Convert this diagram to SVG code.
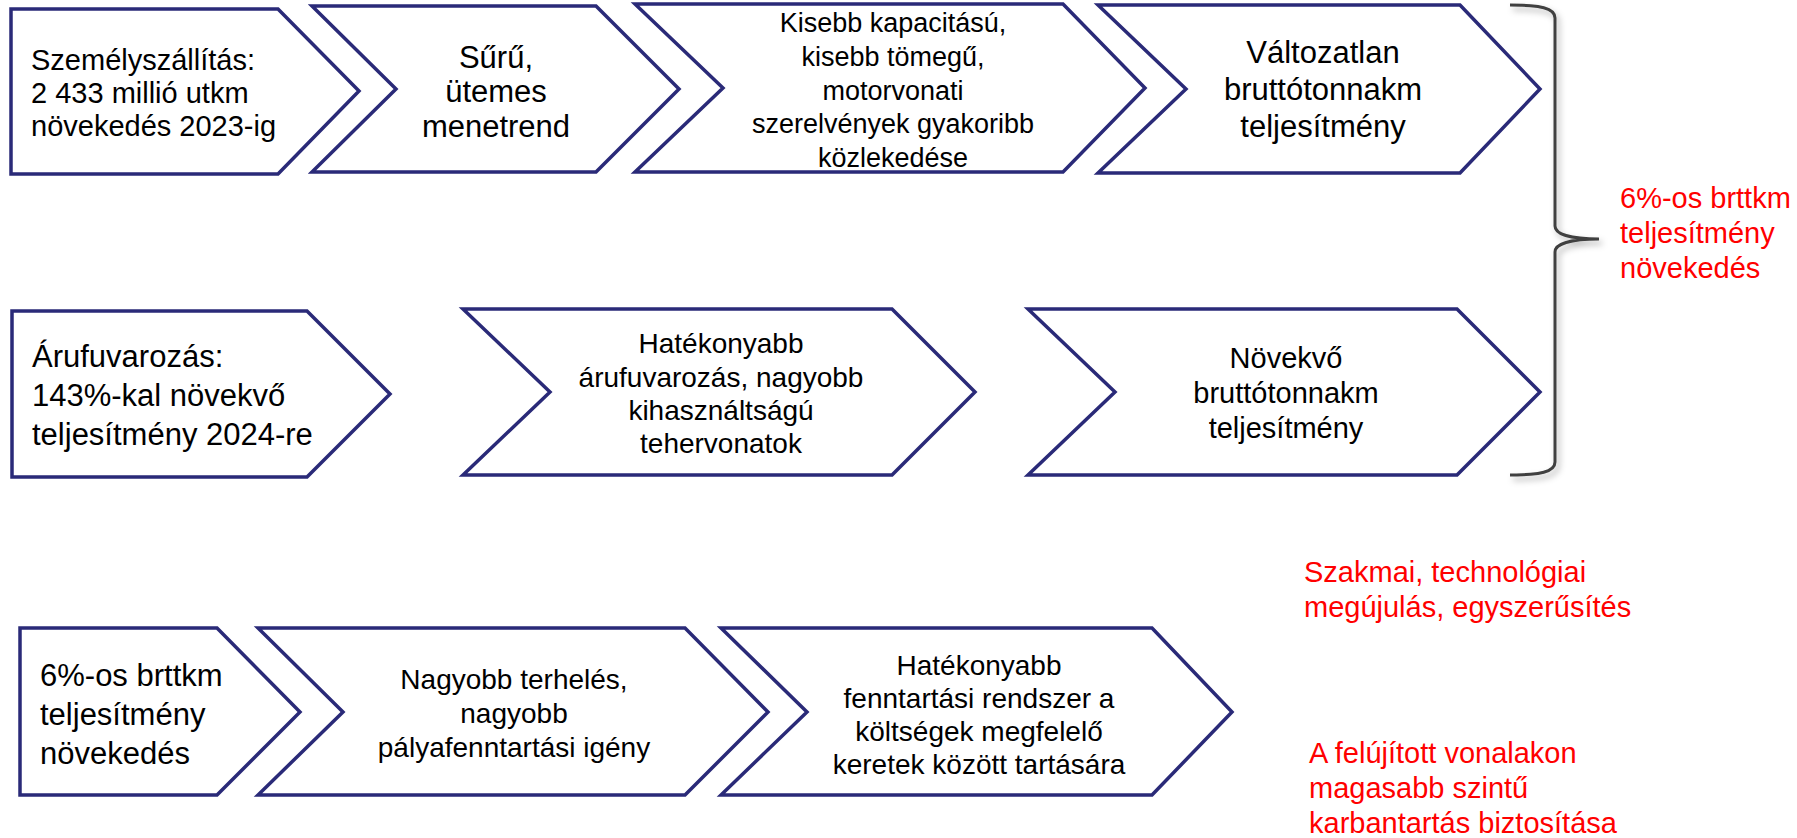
<svg xmlns="http://www.w3.org/2000/svg" width="1797" height="838" viewBox="0 0 1797 838">
<style>
.box{fill:#fff;stroke:#2a2a78;stroke-width:3.5;stroke-linejoin:miter}
.t{font-family:"Liberation Sans",Arial,sans-serif;fill:#000}
.c{text-anchor:middle}
.red{font-family:"Liberation Sans",Arial,sans-serif;fill:#ff0000;font-size:29px}
.brace{fill:none;stroke:#404040;stroke-width:3}
</style>
<defs>
<filter id="sh" x="-50%" y="-10%" width="200%" height="120%">
<feDropShadow dx="3" dy="4" stdDeviation="3" flood-color="#000" flood-opacity="0.3"/>
</filter>
</defs>
<rect width="1797" height="838" fill="#fff"/>

<g id="n1">
<path class="box" d="M11,9 L278,9 L359,91 L278,174 L11,174 Z"/>
<text class="t" font-size="29" x="31"><tspan x="31" y="70">Személyszállítás:</tspan><tspan x="31" y="103">2 433 millió utkm</tspan><tspan x="31" y="136">növekedés 2023-ig</tspan></text>
</g>
<g id="n2">
<path class="box" d="M312,6 L596,6 L679,89 L596,172 L312,172 L396,89 Z"/>
<text class="t c" font-size="31"><tspan x="496" y="68">Sűrű,</tspan><tspan x="496" y="102">ütemes</tspan><tspan x="496" y="137">menetrend</tspan></text>
</g>
<g id="n3">
<path class="box" d="M635,4 L1063,4 L1145,88 L1063,172 L635,172 L723,88 Z"/>
<text class="t c" font-size="27"><tspan x="893" y="32">Kisebb kapacitású,</tspan><tspan x="893" y="66">kisebb tömegű,</tspan><tspan x="893" y="100">motorvonati</tspan><tspan x="893" y="133">szerelvények gyakoribb</tspan><tspan x="893" y="167">közlekedése</tspan></text>
</g>
<g id="n4">
<path class="box" d="M1098,5 L1460,5 L1540,89 L1460,173 L1098,173 L1186,89 Z"/>
<text class="t c" font-size="31"><tspan x="1323" y="63">Változatlan</tspan><tspan x="1323" y="100">bruttótonnakm</tspan><tspan x="1323" y="137">teljesítmény</tspan></text>
</g>

<g id="n5">
<path class="box" d="M12,311 L307,311 L390,394 L307,477 L12,477 Z"/>
<text class="t" font-size="31"><tspan x="32" y="367">Árufuvarozás:</tspan><tspan x="32" y="406">143%-kal növekvő</tspan><tspan x="32" y="445">teljesítmény 2024-re</tspan></text>
</g>
<g id="n6">
<path class="box" d="M463,309 L892,309 L975,392 L892,475 L463,475 L550,392 Z"/>
<text class="t c" font-size="28"><tspan x="721" y="353">Hatékonyabb</tspan><tspan x="721" y="387">árufuvarozás, nagyobb</tspan><tspan x="721" y="420">kihasználtságú</tspan><tspan x="721" y="453">tehervonatok</tspan></text>
</g>
<g id="n7">
<path class="box" d="M1028,309 L1457,309 L1540,392 L1457,475 L1028,475 L1115,392 Z"/>
<text class="t c" font-size="29"><tspan x="1286" y="368">Növekvő</tspan><tspan x="1286" y="403">bruttótonnakm</tspan><tspan x="1286" y="438">teljesítmény</tspan></text>
</g>

<g id="n8">
<path class="box" d="M20,628 L217,628 L300,712 L217,795 L20,795 Z"/>
<text class="t" font-size="31"><tspan x="40" y="686">6%-os brttkm</tspan><tspan x="40" y="725">teljesítmény</tspan><tspan x="40" y="764">növekedés</tspan></text>
</g>
<g id="n9">
<path class="box" d="M258,628 L685,628 L768,712 L685,795 L258,795 L343,712 Z"/>
<text class="t c" font-size="28"><tspan x="514" y="689">Nagyobb terhelés,</tspan><tspan x="514" y="723">nagyobb</tspan><tspan x="514" y="757">pályafenntartási igény</tspan></text>
</g>
<g id="n10">
<path class="box" d="M721,628 L1152,628 L1232,712 L1152,795 L721,795 L807,712 Z"/>
<text class="t c" font-size="28"><tspan x="979" y="675">Hatékonyabb</tspan><tspan x="979" y="708">fenntartási rendszer a</tspan><tspan x="979" y="741">költségek megfelelő</tspan><tspan x="979" y="774">keretek között tartására</tspan></text>
</g>

<g id="connectors">
<path class="brace" filter="url(#sh)" d="M1510,5 C1540,5 1555,8 1555,18 L1555,226 C1555,234 1570,239 1599,239 C1570,239 1555,244 1555,252 L1555,462 C1555,472 1540,475 1510,475"/>
</g>

<g id="notes">
<text class="red"><tspan x="1620" y="208">6%-os brttkm</tspan><tspan x="1620" y="243">teljesítmény</tspan><tspan x="1620" y="278">növekedés</tspan></text>
<text class="red"><tspan x="1304" y="582">Szakmai, technológiai</tspan><tspan x="1304" y="617">megújulás, egyszerűsítés</tspan></text>
<text class="red"><tspan x="1309" y="763">A felújított vonalakon</tspan><tspan x="1309" y="798">magasabb szintű</tspan><tspan x="1309" y="833">karbantartás biztosítása</tspan></text>
</g>
</svg>
